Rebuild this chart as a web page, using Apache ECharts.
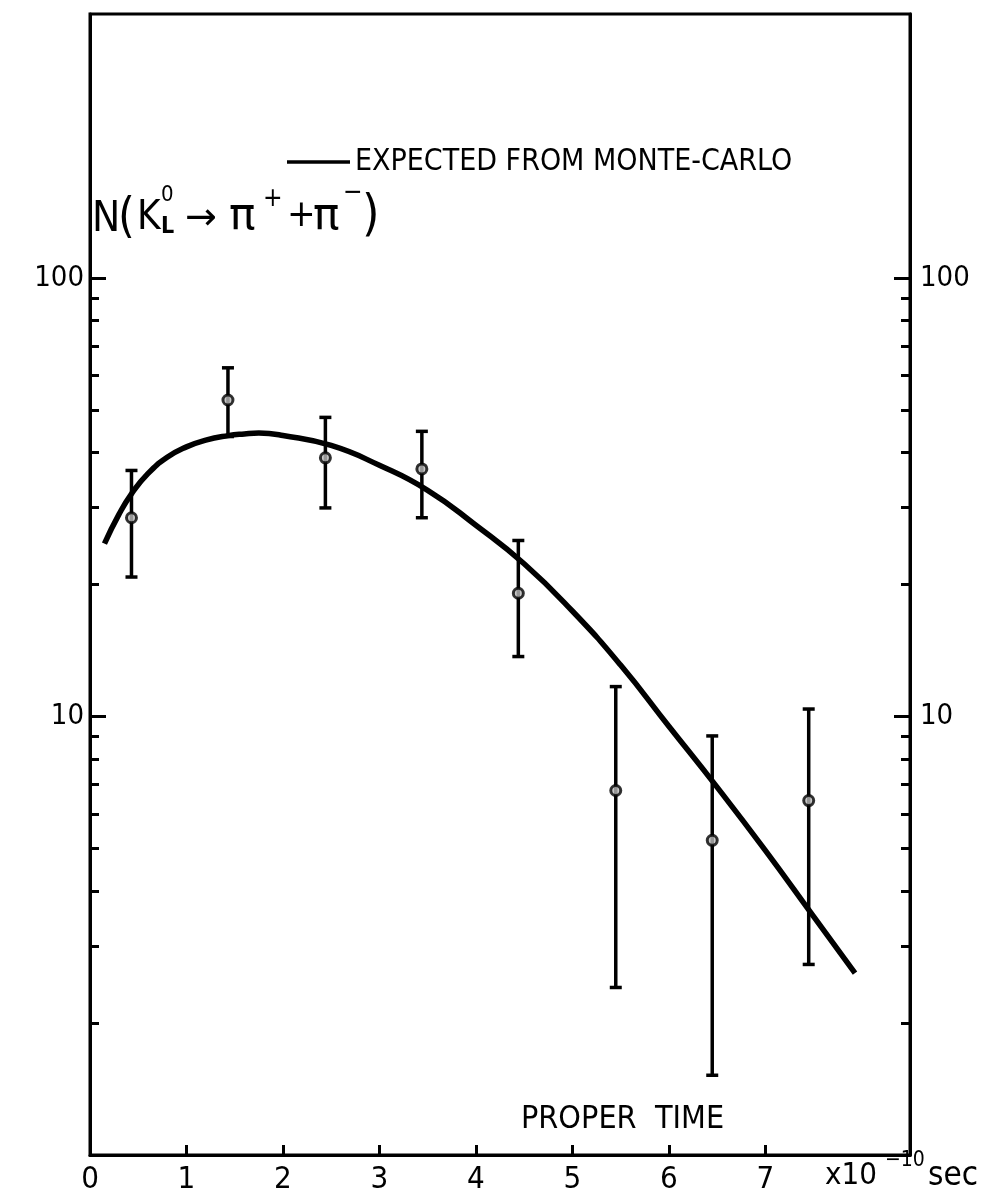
<!DOCTYPE html>
<html><head><meta charset="utf-8">
<script src="https://cdn.jsdelivr.net/npm/echarts@6/dist/echarts.min.js"></script>
<style>html,body{margin:0;padding:0;background:#fff}#c{width:990px;height:1195px}</style>
</head><body><div id="c"></div>
<script>
// measured data (proper time in units of 1e-10 s)
const properTime = [0.43, 1.43, 2.44, 3.44, 4.44, 5.45, 6.45, 7.45];
const countN     = [28.4, 52.7, 38.9, 36.7, 19.1, 6.78, 5.22, 6.43];
const errLow     = [20.8, 43.5, 29.9, 28.4, 13.7, 2.41, 1.52, 2.72];
const errHigh    = [36.4, 62.4, 48.1, 44.7, 25.2, 11.7, 9.03, 10.4];
// Monte-Carlo expectation curve
const curveTime = [0.15, 0.3, 0.43, 0.6, 0.8, 1.0, 1.2, 1.43, 1.6, 1.75, 2.0, 2.5, 3.0, 3.5, 4.0, 4.5, 5.0, 5.5, 6.0, 6.5, 7.0, 7.5, 7.93];
const curveN    = [24.8, 28.9, 32.2, 35.8, 39.0, 41.2, 42.7, 43.7, 44.1, 44.3, 43.75, 41.5, 37.4, 32.8, 27.3, 22.3, 17.4, 13.1, 9.5, 6.9, 4.95, 3.50, 2.60];
// tick labels
const xTickLabels = ['0', '1', '2', '3', '4', '5', '6', '7'];
const yMajorTicks = [10, 100];
const yMinorTicks = [2, 3, 4, 5, 6, 7, 8, 9, 20, 30, 40, 50, 60, 70, 80, 90];
const legendName = 'EXPECTED FROM MONTE-CARLO';

const FONT = "'Liberation Sans Narrow', 'DejaVu Sans Condensed', 'Liberation Sans', sans-serif";
const chart = echarts.init(document.getElementById('c'), null, {renderer: 'canvas'});

function yAxisDef(pos, major) {
  return {
    type: 'log', logBase: 10, min: 1, max: 400, position: pos, gridIndex: 0,
    axisLine: {show: major, lineStyle: {color: '#000', width: 3}},
    axisTick: {show: true, inside: true, length: major ? 16 : 9,
      customValues: major ? yMajorTicks : yMinorTicks,
      lineStyle: {color: '#000', width: 3}},
    axisLabel: {show: major, customValues: yMajorTicks, margin: pos === 'left' ? 6 : 10,
      color: '#000', fontFamily: FONT, fontSize: 29,
      formatter: v => String(Math.round(v))},
    splitLine: {show: false}, minorTick: {show: false}
  };
}

const errData = properTime.map((t, i) => [t, errLow[i], errHigh[i]]);

const option = {
  backgroundColor: '#fff',
  animation: false,
  grid: {left: 90, width: 820, top: 14, height: 1141, show: true, borderColor: '#000', borderWidth: 3, backgroundColor: 'transparent'},
  legend: {
    data: [legendName], left: 282, top: 142, itemWidth: 63, itemHeight: 14, itemGap: 6,
    textStyle: {color: '#000', fontFamily: FONT, fontSize: 30},
    icon: 'path://M0,5.5 L63,5.5 L63,9 L0,9 Z'
  },
  xAxis: [{
    type: 'value', min: 0, max: 8.5, interval: 1, position: 'bottom',
    axisLine: {show: true, lineStyle: {color: '#000', width: 3}},
    axisTick: {show: true, inside: true, length: 10, lineStyle: {color: '#000', width: 3},
      customValues: [1, 2, 3, 4, 5, 6, 7]},
    axisLabel: {color: '#000', fontFamily: FONT, fontSize: 31, margin: 9,
      customValues: xTickLabels.map(Number),
      formatter: v => xTickLabels[Math.round(v)] || ''},
    splitLine: {show: false}
  }],
  yAxis: [yAxisDef('left', true), yAxisDef('left', false), yAxisDef('right', true), yAxisDef('right', false)],
  series: [
    {
      name: legendName, type: 'line', smooth: 0.5, symbol: 'none',
      data: curveTime.map((t, i) => [t, curveN[i]]),
      lineStyle: {color: '#000', width: 5.5}, itemStyle: {color: '#000'}, z: 3
    },
    {
      name: 'errors', type: 'custom', data: errData, z: 4,
      renderItem: (params, api) => {
        const x = api.value(0);
        const lo = api.coord([x, api.value(1)]);
        const hi = api.coord([x, api.value(2)]);
        const cw = 6;
        const st = {stroke: '#000', lineWidth: 3.5};
        return {type: 'group', children: [
          {type: 'line', shape: {x1: lo[0], y1: lo[1], x2: hi[0], y2: hi[1]}, style: st},
          {type: 'line', shape: {x1: lo[0] - cw, y1: lo[1], x2: lo[0] + cw, y2: lo[1]}, style: st},
          {type: 'line', shape: {x1: hi[0] - cw, y1: hi[1], x2: hi[0] + cw, y2: hi[1]}, style: st}
        ]};
      }
    },
    {
      name: 'data', type: 'scatter', data: properTime.map((t, i) => [t, countN[i]]), z: 5,
      symbol: 'circle', symbolSize: 10,
      itemStyle: {color: '#bbb', borderColor: '#000', borderWidth: 3}
    }
  ],
  graphic: [
    {type: 'text', left: 92, top: 199, style: {text: 'N', font: `42px ${FONT}`, fill: '#000'}},
    {type: 'text', left: 118, top: 196, style: {text: '(', font: `48px ${FONT}`, fill: '#000'}},
    {type: 'text', left: 137, top: 199, style: {text: 'K', font: `40px ${FONT}`, fill: '#000'}},
    {type: 'text', left: 161, top: 184, style: {text: '0', font: `22px ${FONT}`, fill: '#000'}},
    {type: 'text', left: 161, top: 216, style: {text: 'L', font: `bold 23px ${FONT}`, fill: '#000'}},
    {type: 'text', left: 185, top: 200, style: {text: '→', font: `38px 'DejaVu Sans', sans-serif`, fill: '#000'}},
    {type: 'text', left: 229, top: 196, style: {text: 'π', font: `44px 'DejaVu Sans', sans-serif`, fill: '#000'}},
    {type: 'text', left: 263, top: 186, style: {text: '+', font: `26px ${FONT}`, fill: '#000'}},
    {type: 'text', left: 287, top: 197, style: {text: '+', font: `38px ${FONT}`, fill: '#000'}},
    {type: 'text', left: 313, top: 196, style: {text: 'π', font: `44px 'DejaVu Sans', sans-serif`, fill: '#000'}},
    {type: 'text', left: 343, top: 180, style: {text: '−', font: `26px ${FONT}`, fill: '#000'}},
    {type: 'text', left: 362, top: 192, style: {text: ')', font: `50px ${FONT}`, fill: '#000'}},
    {type: 'text', left: 521, top: 1104, style: {text: 'PROPER', font: `32px ${FONT}`, fill: '#000'}},
    {type: 'text', left: 655, top: 1104, style: {text: 'TIME', font: `32px ${FONT}`, fill: '#000'}},
    {type: 'text', left: 825, top: 1160, style: {text: 'x10', font: `31px ${FONT}`, fill: '#000'}},
    {type: 'text', left: 885, top: 1150, style: {text: '−10', font: `21px ${FONT}`, fill: '#000'}},
    {type: 'text', left: 928, top: 1160, style: {text: 'sec', font: `33px ${FONT}`, fill: '#000'}}
  ]
};
chart.setOption(option);
</script></body></html>
